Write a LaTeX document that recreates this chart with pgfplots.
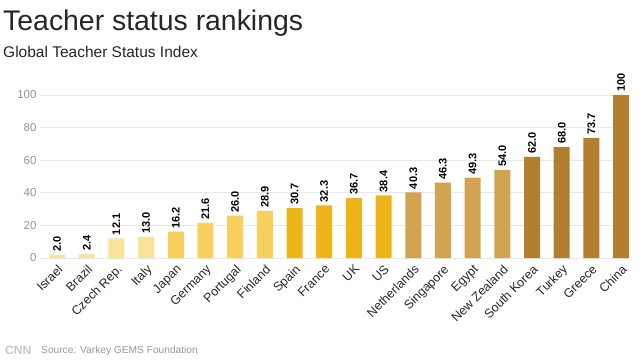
\documentclass[border=0pt]{standalone}
\usepackage{pgfplots}
\pgfplotsset{compat=1.18}
\usepackage{fontspec}
\setmainfont{Liberation Sans}
\definecolor{c1}{HTML}{F6E3A4}
\definecolor{c2}{HTML}{F9E29A}
\definecolor{c3}{HTML}{F8D05E}
\definecolor{c4}{HTML}{EEB51A}
\definecolor{c5}{HTML}{D2A452}
\definecolor{c6}{HTML}{B27E30}
\definecolor{gridc}{HTML}{E8E8E8}
\definecolor{tickc}{HTML}{939393}
\begin{document}
\begin{tikzpicture}[x=1pt,y=1pt]
\useasboundingbox (0,0) rectangle (640,360);
\node[anchor=base west,font=\fontsize{28.4}{30}\selectfont,text=black!85,inner sep=0] at (3,330) {Teacher status rankings};
\node[anchor=base west,font=\fontsize{15.5}{17}\selectfont,text=black!85,inner sep=0] at (3,303) {Global Teacher Status Index};
\node[anchor=base west,font=\fontsize{10.2}{12}\selectfont,text=black!40,inner sep=0] at (41,7) {Source: Varkey GEMS Foundation};
\node[anchor=base west,font=\bfseries\fontsize{12}{13}\selectfont,text=black!22,inner sep=0] at (5,6) {CNN};
\begin{axis}[
  at={(40pt,102pt)}, anchor=south west,
  scale only axis, width=590pt, height=163pt,
  xmin=-0.573, xmax=19.3, ymin=0, ymax=100,
  axis line style={draw=none},
  tick style={draw=none},
  ytick={0,20,...,100},
  ymajorgrids, grid style={gridc, line width=0.8pt},
  yticklabel style={text=tickc, font=\fontsize{11.5}{13}\selectfont},
  /pgf/number format/assume math mode=true,
  xtick={0,...,19},
  xticklabels={Israel,Brazil,Czech Rep.,Italy,Japan,Germany,Portugal,Finland,Spain,France,UK,US,Netherlands,Singapore,Egypt,New Zealand,South Korea,Turkey,Greece,China},
  xticklabel style={rotate=45, anchor=north east, font=\fontsize{12.5}{14}\selectfont, text=black!85, inner sep=1pt},
  ybar, bar width=16pt, bar shift=0pt,
  clip=false,
  point meta=explicit symbolic,
  nodes near coords,
  nodes near coords style={rotate=90, anchor=west, font=\bfseries\fontsize{11}{12}\selectfont, text=black, inner sep=3pt},
]
\addplot[fill=c1, draw=none] coordinates {(0,2.0)[2.0] (1,2.4)[2.4]};
\addplot[fill=c2, draw=none] coordinates {(2,12.1)[12.1] (3,13.0)[13.0]};
\addplot[fill=c3, draw=none] coordinates {(4,16.2)[16.2] (5,21.6)[21.6] (6,26.0)[26.0] (7,28.9)[28.9]};
\addplot[fill=c4, draw=none] coordinates {(8,30.7)[30.7] (9,32.3)[32.3] (10,36.7)[36.7] (11,38.4)[38.4]};
\addplot[fill=c5, draw=none] coordinates {(12,40.3)[40.3] (13,46.3)[46.3] (14,49.3)[49.3] (15,54.0)[54.0]};
\addplot[fill=c6, draw=none] coordinates {(16,62.0)[62.0] (17,68.0)[68.0] (18,73.7)[73.7] (19,100)[100]};
\end{axis}
\end{tikzpicture}
\end{document}
